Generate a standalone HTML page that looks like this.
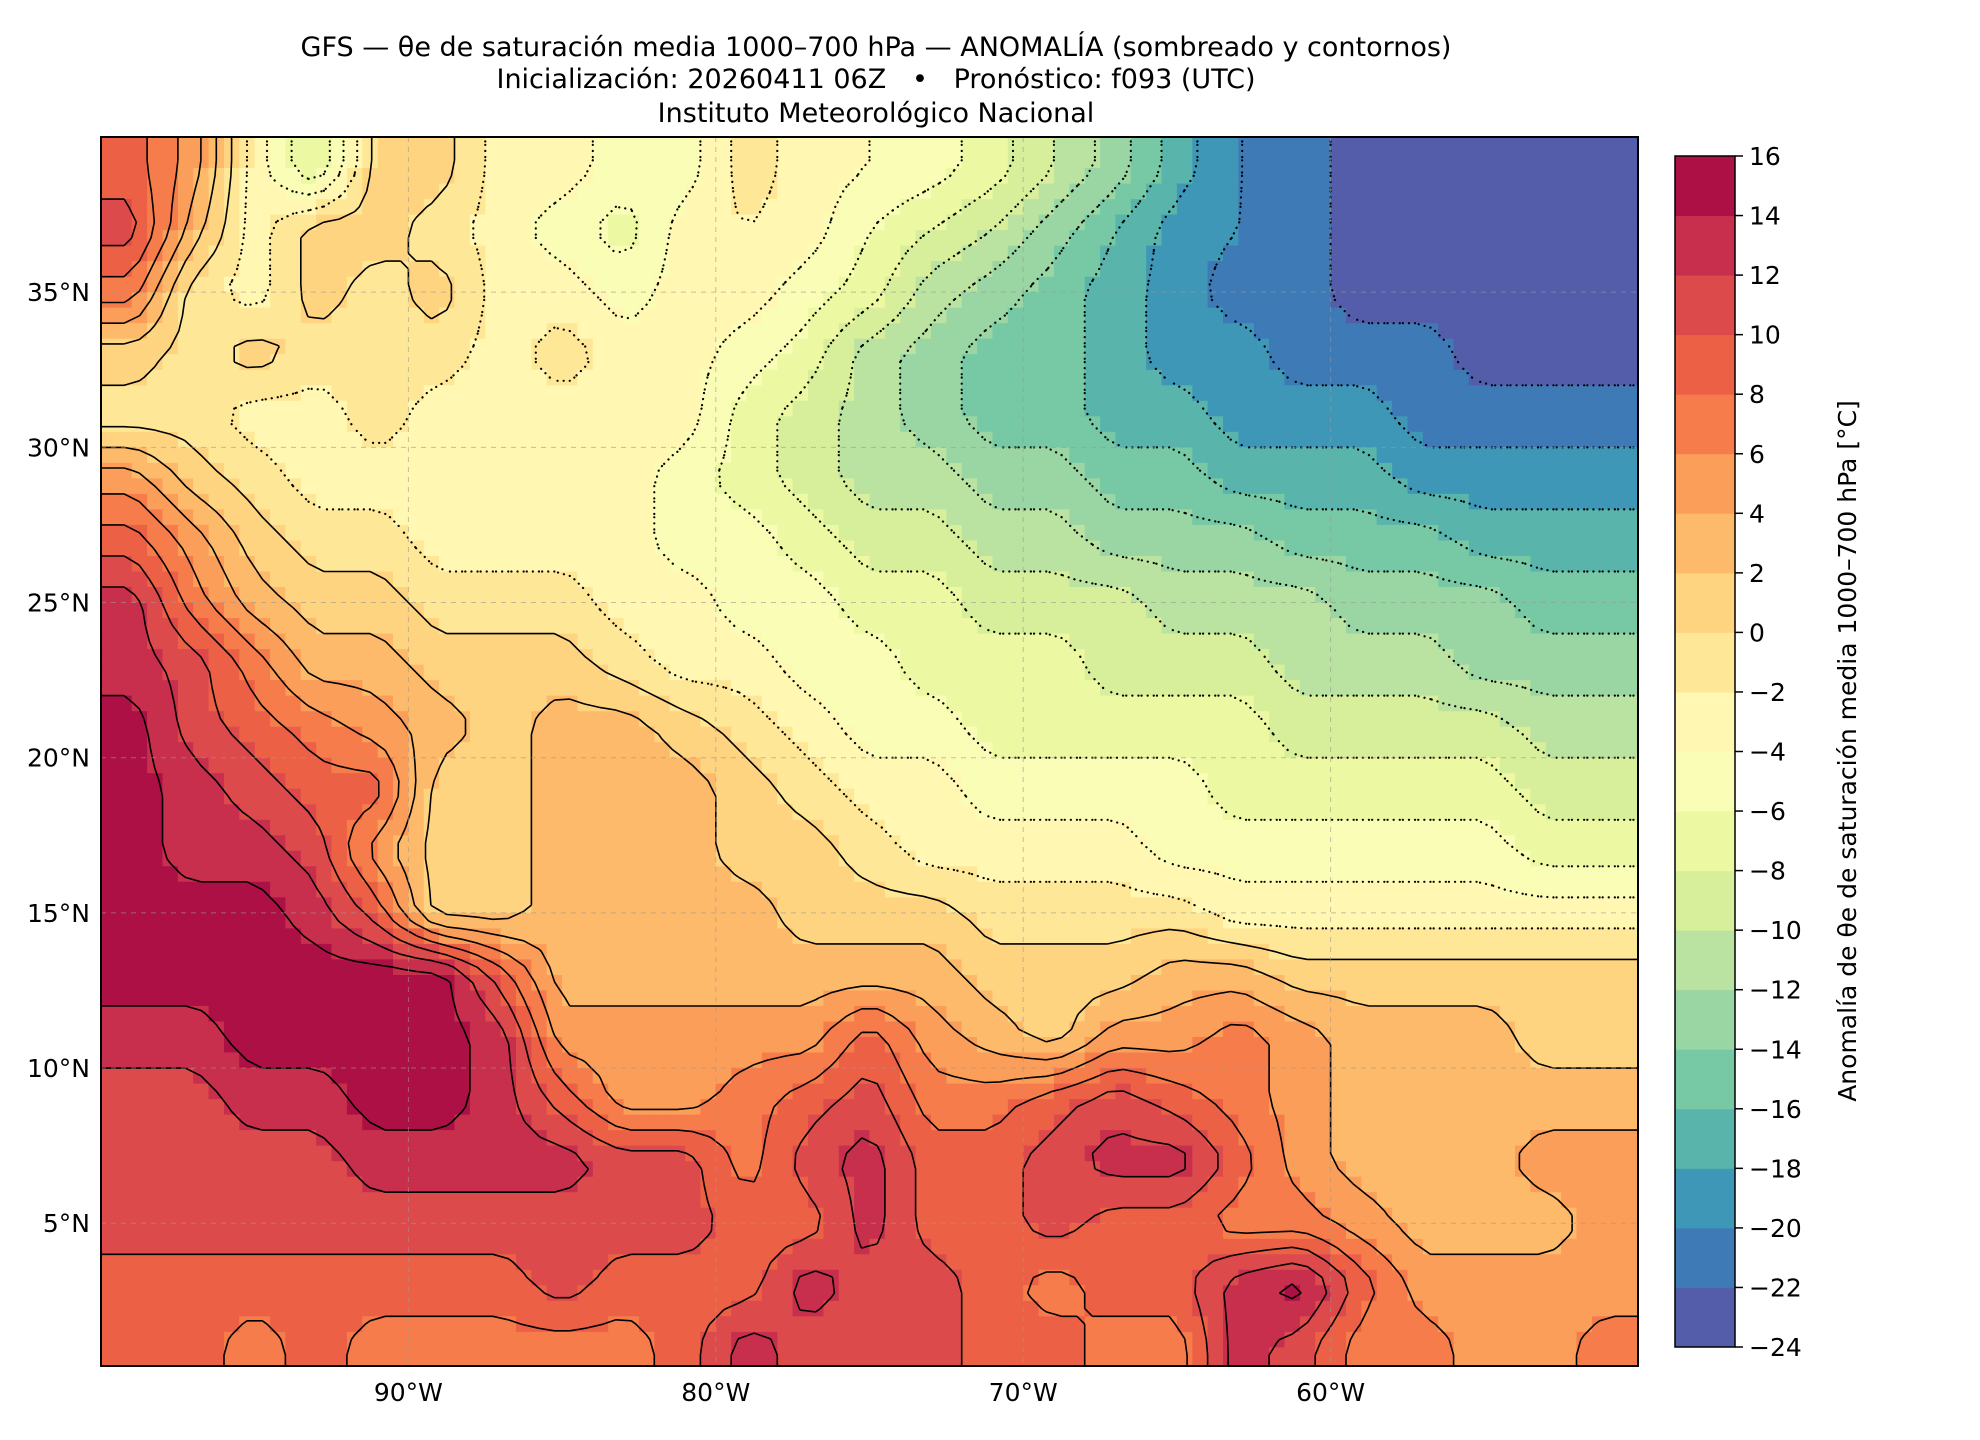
<!DOCTYPE html>
<html><head><meta charset="utf-8">
<style>
body{margin:0;background:#fff;}
svg{display:block;font-family:"DejaVu Sans","Liberation Sans",sans-serif;}
</style></head>
<body>
<svg id="chart" width="1980" height="1440" viewBox="0 0 1980 1440" xmlns="http://www.w3.org/2000/svg">
<defs><clipPath id="mapclip"><rect x="101" y="137" width="1537" height="1229"/></clipPath></defs>
<g font-size="27" text-anchor="middle" fill="#000" style="white-space:pre">
<text x="876" y="56" xml:space="preserve">GFS — θe de saturación media 1000–700 hPa — ANOMALÍA (sombreado y contornos)</text>
<text x="876" y="88" xml:space="preserve">Inicialización: 20260411 06Z   •   Pronóstico: f093 (UTC)</text>
<text x="876" y="122">Instituto Meteorológico Nacional</text>
</g>
<g id="map"></g>
<g id="contours" clip-path="url(#mapclip)"></g>
<g id="grid"></g>
<rect x="101" y="137" width="1537" height="1229" fill="none" stroke="#000" stroke-width="2"/>
<g id="axes" font-size="25" fill="#000"></g>
<g id="cbar"></g>
<text transform="translate(1856,751) rotate(-90)" text-anchor="middle" font-size="25">Anomalía de θe de saturación media 1000–700 hPa [°C]</text>
</svg>
<script>
// Data: 2° cells, rows from 39N down to 1N, cols from 99W east to 51W
const lats = [39,37,35,33,31,29,27,25,23,21,19,17,15,13,11,9,7,5,3,1];
const lons = [-99,-97,-95,-93,-91,-89,-87,-85,-83,-81,-79,-77,-75,-73,-71,-69,-67,-65,-63,-61,-59,-57,-55,-53,-51];
const r0 = [9,5,-3,-8,1,1,-3,-3,-5,-5,-1,-3,-4,-5,-7,-10,-13,-17,-20,-21,-23,-23,-23,-23,-23];
const r1 = [11,3,-3,1,1,-1,-3,-5,-7,-3,-2,-3,-6,-8,-10,-13,-16,-19,-20,-21,-23,-23,-23,-23,-23];
const r2 = [7,-1,-3,1,-1,1,-3,-3,-5,-3,-3,-5,-7,-11,-13,-15,-17,-19,-21,-21,-23,-23,-23,-23,-23];
const r3 = [1,-1,1,-1,-1,-1,-3,-1,-3,-3,-5,-7,-11,-13,-15,-15,-17,-19,-19,-21,-21,-21,-23,-23,-23];
const r4 = [-1,-1,-3,-3,-1,-3,-3,-3,-3,-3,-7,-9,-11,-13,-15,-15,-17,-17,-19,-19,-19,-21,-21,-21,-21];
const r5 = [5,1,-1,-3,-3,-3,-3,-3,-3,-5,-7,-9,-11,-11,-13,-13,-15,-15,-17,-17,-17,-19,-19,-19,-19];
const r6 = [9,5,1,-1,-1,-3,-3,-3,-3,-5,-5,-7,-9,-9,-11,-11,-13,-13,-13,-15,-15,-15,-17,-17,-17];
const r7 = [13,7,3,1,1,-1,-1,-1,-3,-3,-5,-5,-7,-7,-9,-9,-9,-11,-11,-11,-13,-13,-13,-15,-15];
const r8 = [13,11,7,3,3,1,1,1,-1,-3,-3,-5,-5,-7,-7,-7,-9,-9,-9,-11,-11,-11,-13,-13,-13];
const r9 = [15,11,9,7,5,3,1,3,3,1,-1,-3,-5,-5,-7,-7,-7,-7,-7,-9,-9,-9,-9,-11,-11];
const r10 = [15,13,11,9,9,1,1,3,3,3,1,-1,-3,-3,-5,-5,-5,-5,-7,-7,-7,-7,-7,-9,-9];
const r11 = [15,13,13,11,5,1,1,3,3,3,1,1,-1,-3,-3,-3,-3,-5,-5,-5,-5,-5,-5,-7,-7];
const r12 = [15,15,15,13,9,1,1,3,3,3,3,1,1,1,-1,-1,-1,-1,-3,-3,-3,-3,-3,-3,-3];
const r13 = [15,15,15,15,15,15,9,3,3,3,3,3,3,3,1,1,1,3,3,1,1,1,1,1,1];
const r14 = [13,13,15,15,15,15,13,5,5,5,5,5,9,5,3,1,5,5,7,5,3,3,3,1,1];
const r15 = [11,11,13,13,15,15,13,9,5,5,7,9,11,7,7,9,11,9,7,5,3,3,3,3,3];
const r16 = [11,11,11,11,13,13,13,13,11,11,7,11,13,9,9,11,13,13,9,5,3,3,3,5,5];
const r17 = [11,11,11,11,11,11,11,11,11,11,9,9,13,9,9,11,9,9,7,7,5,3,3,3,5];
const r18 = [9,9,9,9,9,9,9,11,9,9,9,13,11,11,9,7,9,9,13,15,9,5,5,5,5];
const r19 = [9,9,7,9,7,7,7,7,7,9,13,11,11,11,9,9,7,7,13,11,7,7,5,5,7];
const grid = [r0,r1,r2,r3,r4,r5,r6,r7,r8,r9,r10,r11,r12,r13,r14,r15,r16,r17,r18,r19];
const levels = [-24,-22,-20,-18,-16,-14,-12,-10,-8,-6,-4,-2,0,2,4,6,8,10,12,14,16];
const lonTicks = [-90,-80,-70,-60];
const latTicks = [5,10,15,20,25,30,35];

const NS='http://www.w3.org/2000/svg';
const X0=101,X1=1638,Y0=137,Y1=1366,LON0=-100,LON1=-50,LAT0=40,LAT1=0.4;
function xS(lon){return X0+(lon-LON0)/(LON1-LON0)*(X1-X0);}
function yS(lat){return Y0+(LAT0-lat)/(LAT0-LAT1)*(Y1-Y0);}
const spec=['#9e0142','#d53e4f','#f46d43','#fdae61','#fee08b','#ffffbf','#e6f598','#abdda4','#66c2a5','#3288bd','#5e4fa2'];
function hex(h){return [1,3,5].map(i=>parseInt(h.substr(i,2),16));}
function spectral(p){
  const f=p*10,i=Math.min(9,Math.floor(f)),t=f-i;const a=hex(spec[i]),b=hex(spec[i+1]);
  return 'rgb('+a.map((v,k)=>Math.round(v+(b[k]-v)*t)).join(',')+')';}
const nb=levels.length-1;
function bandColor(i){return spectral(1-(i+0.5)/nb);}
function bandOf(v){let i=Math.floor((v-levels[0])/2);return Math.max(0,Math.min(nb-1,i));}

const map=document.getElementById('map');
function sample(lat,lon){
  let fr=(lats[0]-lat)/2, fc=(lon-lons[0])/2;
  fr=Math.max(0,Math.min(lats.length-1,fr)); fc=Math.max(0,Math.min(lons.length-1,fc));
  const r=Math.min(lats.length-2,Math.floor(fr)),c=Math.min(lons.length-2,Math.floor(fc));
  const tr=fr-r,tc=fc-c;
  return grid[r][c]*(1-tr)*(1-tc)+grid[r][c+1]*(1-tr)*tc+grid[r+1][c]*tr*(1-tc)+grid[r+1][c+1]*tr*tc;}
const step=0.5;
for(let lat=LAT0;lat>LAT1-0.01;lat-=step){
  for(let lon=LON0;lon<LON1;lon+=step){
    const v=sample(lat-step/2,lon+step/2);
    const x=xS(lon),y=yS(lat),w=xS(lon+step)-x+0.6,h=yS(lat-step)-y+0.6;
    const r=document.createElementNS(NS,'rect');
    r.setAttribute('x',x.toFixed(1));r.setAttribute('y',y.toFixed(1));
    r.setAttribute('width',Math.min(w,X1-x).toFixed(1));r.setAttribute('height',Math.max(0,Math.min(h,Y1-y)).toFixed(1));
    r.setAttribute('fill',bandColor(bandOf(v)));
    
    
    map.appendChild(r);
  }
}
// contour lines via marching squares, covering the whole map (clipped)
const cstep=0.5;
const nodeLats=[],nodeLons=[];
for(let lat=LAT0+0.25;lat>=0-0.001;lat-=cstep)nodeLats.push(lat);
for(let lon=LON0-0.25;lon<=LON1+0.3;lon+=cstep)nodeLons.push(lon);
const F=nodeLats.map(la=>nodeLons.map(lo=>sample(la-0.0,lo)));
const cg=document.getElementById('contours');
levels.slice(1,-1).forEach(L=>{
  let d='';
  for(let i=0;i<nodeLats.length-1;i++){
    for(let j=0;j<nodeLons.length-1;j++){
      const a=F[i][j],b=F[i][j+1],c=F[i+1][j+1],e=F[i+1][j];
      const pts=[];
      function cross(v1,v2,la1,lo1,la2,lo2){
        if((v1<L)!==(v2<L)){const t=(L-v1)/(v2-v1);pts.push([xS(lo1+(lo2-lo1)*t),yS(la1+(la2-la1)*t)]);}
      }
      const la0=nodeLats[i],la1=nodeLats[i+1],lo0=nodeLons[j],lo1=nodeLons[j+1];
      cross(a,b,la0,lo0,la0,lo1);cross(b,c,la0,lo1,la1,lo1);cross(c,e,la1,lo1,la1,lo0);cross(e,a,la1,lo0,la0,lo0);
      for(let k=0;k+1<pts.length;k+=2)d+='M'+pts[k][0].toFixed(1)+' '+pts[k][1].toFixed(1)+'L'+pts[k+1][0].toFixed(1)+' '+pts[k+1][1].toFixed(1);
    }
  }
  if(!d)return;
  const p=document.createElementNS(NS,'path');
  p.setAttribute('d',d);p.setAttribute('fill','none');p.setAttribute('stroke','#000');
  if(L<0){p.setAttribute('stroke-width','2.2');p.setAttribute('stroke-dasharray','0.1,6');p.setAttribute('stroke-linecap','round');}
  else{p.setAttribute('stroke-width','1.6');}
  
  
  cg.appendChild(p);
});
const gridG=document.getElementById('grid'),axes=document.getElementById('axes');
lonTicks.forEach(lon=>{
  const x=xS(lon);
  const l=document.createElementNS(NS,'line');
  l.setAttribute('x1',x);l.setAttribute('x2',x);l.setAttribute('y1',Y0);l.setAttribute('y2',Y1);
  l.setAttribute('stroke','#999');l.setAttribute('stroke-dasharray','5,5');l.setAttribute('stroke-width','1');l.setAttribute('opacity','0.6');
  
  
  gridG.appendChild(l);
  const t=document.createElementNS(NS,'text');
  t.setAttribute('x',x);t.setAttribute('y',Y1+35);t.setAttribute('text-anchor','middle');
  t.textContent=Math.abs(lon)+'°W';
  
  
  axes.appendChild(t);
});
latTicks.forEach(lat=>{
  const y=yS(lat);
  const l=document.createElementNS(NS,'line');
  l.setAttribute('x1',X0);l.setAttribute('x2',X1);l.setAttribute('y1',y);l.setAttribute('y2',y);
  l.setAttribute('stroke','#999');l.setAttribute('stroke-dasharray','5,5');l.setAttribute('stroke-width','1');l.setAttribute('opacity','0.6');
  
  
  gridG.appendChild(l);
  const t=document.createElementNS(NS,'text');
  t.setAttribute('x',X0-11);t.setAttribute('y',y+9);t.setAttribute('text-anchor','end');
  t.textContent=lat+'°N';
  
  
  axes.appendChild(t);
});
const cb=document.getElementById('cbar');
const CX=1675,CW=60,CT=156,CB=1347;
function cY(v){return CB-(v-levels[0])/(levels[nb]-levels[0])*(CB-CT);}
for(let i=0;i<nb;i++){
  const r=document.createElementNS(NS,'rect');
  const yt=cY(levels[i+1]),yb=cY(levels[i]);
  r.setAttribute('x',CX);r.setAttribute('y',yt);r.setAttribute('width',CW);r.setAttribute('height',yb-yt+0.5);
  r.setAttribute('fill',bandColor(i));
  
  
  cb.appendChild(r);
}
const fr=document.createElementNS(NS,'rect');
fr.setAttribute('x',CX);fr.setAttribute('y',CT);fr.setAttribute('width',CW);fr.setAttribute('height',CB-CT);
fr.setAttribute('fill','none');fr.setAttribute('stroke','#000');fr.setAttribute('stroke-width','1.5');


cb.appendChild(fr);
levels.forEach(v=>{
  const y=cY(v);
  const l=document.createElementNS(NS,'line');
  l.setAttribute('x1',CX+CW);l.setAttribute('x2',CX+CW+8);l.setAttribute('y1',y);l.setAttribute('y2',y);l.setAttribute('stroke','#000');l.setAttribute('stroke-width','1.5');
  
  
  cb.appendChild(l);
  const t=document.createElementNS(NS,'text');
  t.setAttribute('x',CX+CW+14);t.setAttribute('y',y+9);t.setAttribute('font-size','25');
  t.textContent=(v<0?'−'+Math.abs(v):String(v));
  
  
  cb.appendChild(t);
});
</script>
</body></html>
